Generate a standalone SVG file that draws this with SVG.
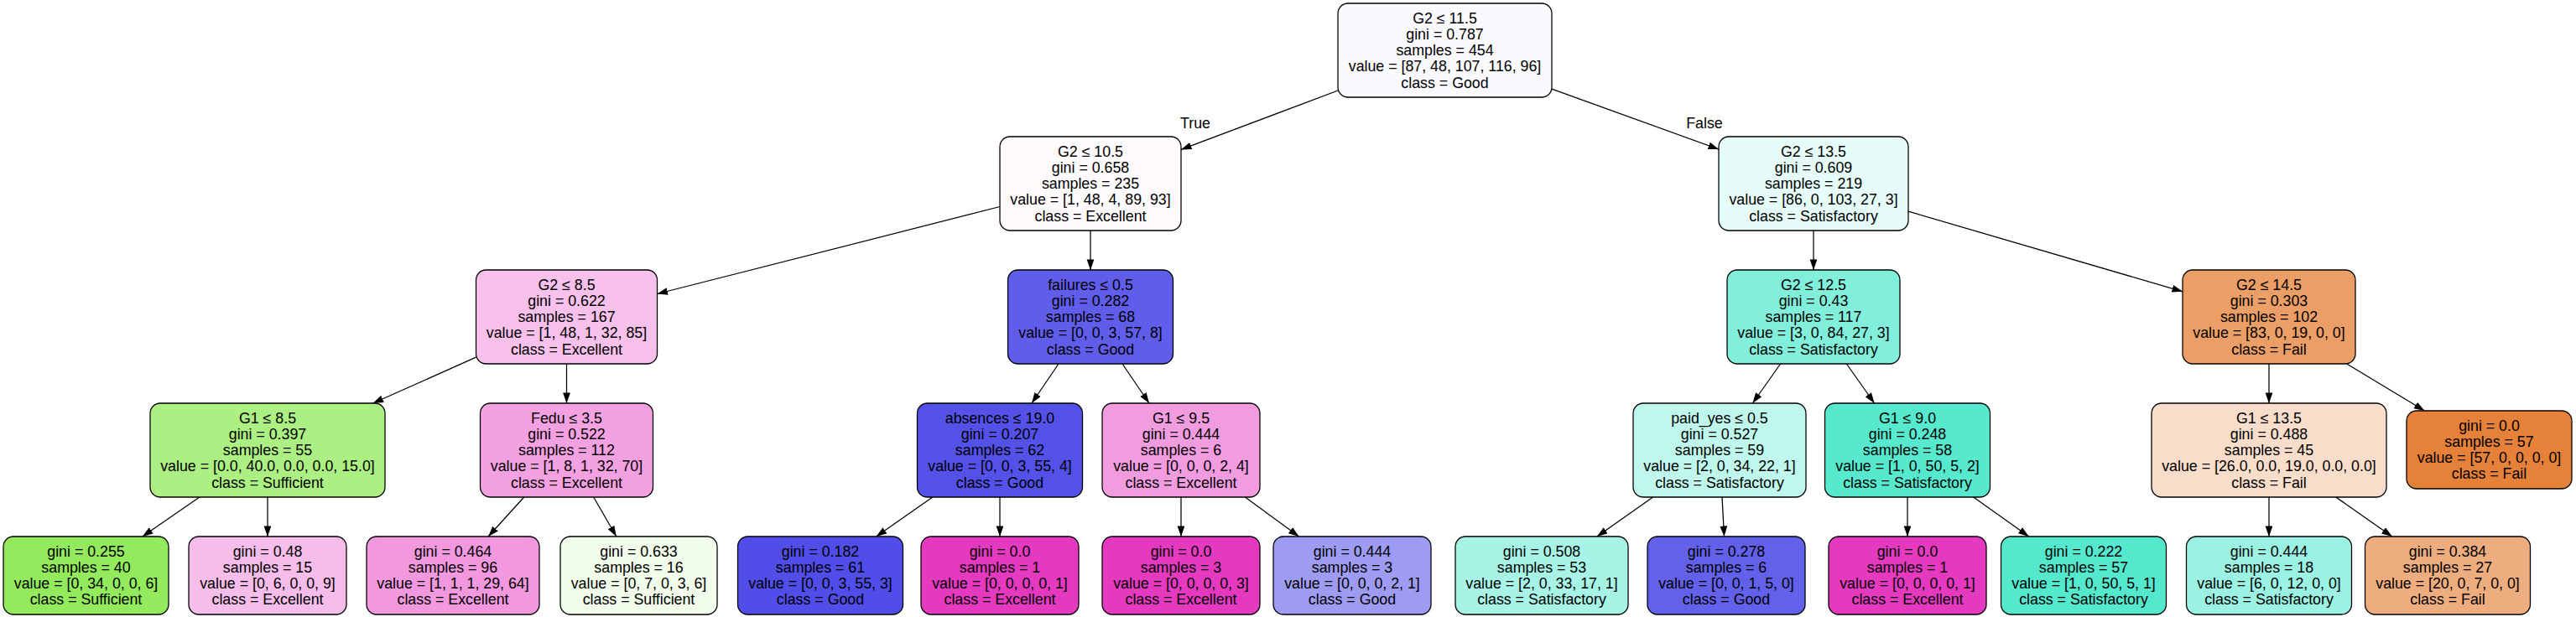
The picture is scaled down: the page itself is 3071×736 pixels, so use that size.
<svg xmlns="http://www.w3.org/2000/svg" width="3071" height="736" viewBox="0 0 3071 736">
<style>
.n rect{stroke:#000;stroke-width:1.26}
.n text{font-family:"Liberation Sans",Arial,Helvetica,sans-serif;font-size:17.8px;text-anchor:middle;fill:#000}
.e line{stroke:#000;stroke-width:1.26;marker-end:url(#ah)}
.lbl{font-family:"Liberation Sans",Arial,Helvetica,sans-serif;font-size:17.8px;text-anchor:middle;fill:#000}
</style>
<defs>
<marker id="ah" markerUnits="userSpaceOnUse" markerWidth="13" markerHeight="9" refX="12.6" refY="4.4" orient="auto"><path d="M0,0 L12.6,4.4 L0,8.8 z" fill="#000"/></marker>
</defs>
<rect width="3071" height="736" fill="#fff"/>
<g id="edges" class="e">
<line x1="1595" y1="108" x2="1408" y2="178.4"/>
<line x1="1850" y1="106.1" x2="2049" y2="178.1"/>
<line x1="1192" y1="246.5" x2="783.5" y2="350.5"/>
<line x1="1300" y1="275" x2="1300" y2="322"/>
<line x1="2162" y1="275" x2="2162" y2="322"/>
<line x1="2275" y1="252.1" x2="2602" y2="347.8"/>
<line x1="567.5" y1="426.2" x2="444.5" y2="481"/>
<line x1="675.5" y1="434" x2="675.5" y2="481"/>
<line x1="1262" y1="434" x2="1230" y2="481"/>
<line x1="1338" y1="434" x2="1370" y2="481"/>
<line x1="2122.6" y1="434" x2="2089.4" y2="481"/>
<line x1="2201.4" y1="434" x2="2234.6" y2="481"/>
<line x1="2705" y1="434" x2="2705" y2="481"/>
<line x1="2797.7" y1="434" x2="2890.5" y2="490"/>
<line x1="237.9" y1="593" x2="169.8" y2="640"/>
<line x1="319" y1="593" x2="319" y2="640"/>
<line x1="624.7" y1="593" x2="582.1" y2="640"/>
<line x1="707.7" y1="593" x2="734.8" y2="640"/>
<line x1="1111.8" y1="593" x2="1044.6" y2="640"/>
<line x1="1192" y1="593" x2="1192" y2="640"/>
<line x1="1408" y1="593" x2="1408" y2="640"/>
<line x1="1484.4" y1="593" x2="1548.6" y2="640"/>
<line x1="1970.6" y1="593" x2="1903.9" y2="640"/>
<line x1="2053" y1="593" x2="2055.5" y2="640"/>
<line x1="2274" y1="593" x2="2274" y2="640"/>
<line x1="2352.7" y1="593" x2="2418.7" y2="640"/>
<line x1="2705" y1="593" x2="2705" y2="640"/>
<line x1="2784.8" y1="593" x2="2851.8" y2="640"/>
<text class="lbl" x="1425" y="153">True</text>
<text class="lbl" x="2032" y="153">False</text>
</g>
<g id="node0" class="n"><rect x="1595" y="4" width="255" height="112" rx="12" fill="#fafafe"/><text><tspan x="1722.5" y="27.5">G2 ≤ 11.5</tspan><tspan x="1722.5" y="46.75">gini = 0.787</tspan><tspan x="1722.5" y="66">samples = 454</tspan><tspan x="1722.5" y="85.25">value = [87, 48, 107, 116, 96]</tspan><tspan x="1722.5" y="104.5">class = Good</tspan></text></g>
<g id="node1" class="n"><rect x="1192" y="163" width="216" height="112" rx="12" fill="#fefafd"/><text><tspan x="1300" y="186.5">G2 ≤ 10.5</tspan><tspan x="1300" y="205.75">gini = 0.658</tspan><tspan x="1300" y="225">samples = 235</tspan><tspan x="1300" y="244.25">value = [1, 48, 4, 89, 93]</tspan><tspan x="1300" y="263.5">class = Excellent</tspan></text></g>
<g id="node2" class="n"><rect x="2049" y="163" width="226" height="112" rx="12" fill="#e6fcf8"/><text><tspan x="2162" y="186.5">G2 ≤ 13.5</tspan><tspan x="2162" y="205.75">gini = 0.609</tspan><tspan x="2162" y="225">samples = 219</tspan><tspan x="2162" y="244.25">value = [86, 0, 103, 27, 3]</tspan><tspan x="2162" y="263.5">class = Satisfactory</tspan></text></g>
<g id="node3" class="n"><rect x="567.5" y="322" width="216" height="112" rx="12" fill="#f7c1eb"/><text><tspan x="675.5" y="345.5">G2 ≤ 8.5</tspan><tspan x="675.5" y="364.75">gini = 0.622</tspan><tspan x="675.5" y="384">samples = 167</tspan><tspan x="675.5" y="403.25">value = [1, 48, 1, 32, 85]</tspan><tspan x="675.5" y="422.5">class = Excellent</tspan></text></g>
<g id="node4" class="n"><rect x="1201.5" y="322" width="197" height="112" rx="12" fill="#605dea"/><text><tspan x="1300" y="345.5">failures ≤ 0.5</tspan><tspan x="1300" y="364.75">gini = 0.282</tspan><tspan x="1300" y="384">samples = 68</tspan><tspan x="1300" y="403.25">value = [0, 0, 3, 57, 8]</tspan><tspan x="1300" y="422.5">class = Good</tspan></text></g>
<g id="node5" class="n"><rect x="2059" y="322" width="206" height="112" rx="12" fill="#82efda"/><text><tspan x="2162" y="345.5">G2 ≤ 12.5</tspan><tspan x="2162" y="364.75">gini = 0.43</tspan><tspan x="2162" y="384">samples = 117</tspan><tspan x="2162" y="403.25">value = [3, 0, 84, 27, 3]</tspan><tspan x="2162" y="422.5">class = Satisfactory</tspan></text></g>
<g id="node6" class="n"><rect x="2602" y="322" width="206" height="112" rx="12" fill="#eb9e66"/><text><tspan x="2705" y="345.5">G2 ≤ 14.5</tspan><tspan x="2705" y="364.75">gini = 0.303</tspan><tspan x="2705" y="384">samples = 102</tspan><tspan x="2705" y="403.25">value = [83, 0, 19, 0, 0]</tspan><tspan x="2705" y="422.5">class = Fail</tspan></text></g>
<g id="node7" class="n"><rect x="179" y="481" width="280" height="112" rx="12" fill="#acef83"/><text><tspan x="319" y="504.5">G1 ≤ 8.5</tspan><tspan x="319" y="523.75">gini = 0.397</tspan><tspan x="319" y="543">samples = 55</tspan><tspan x="319" y="562.25">value = [0.0, 40.0, 0.0, 0.0, 15.0]</tspan><tspan x="319" y="581.5">class = Sufficient</tspan></text></g>
<g id="node8" class="n"><rect x="572.5" y="481" width="206" height="112" rx="12" fill="#f3a1e1"/><text><tspan x="675.5" y="504.5">Fedu ≤ 3.5</tspan><tspan x="675.5" y="523.75">gini = 0.522</tspan><tspan x="675.5" y="543">samples = 112</tspan><tspan x="675.5" y="562.25">value = [1, 8, 1, 32, 70]</tspan><tspan x="675.5" y="581.5">class = Excellent</tspan></text></g>
<g id="node9" class="n"><rect x="1093.5" y="481" width="197" height="112" rx="12" fill="#5451e8"/><text><tspan x="1192" y="504.5">absences ≤ 19.0</tspan><tspan x="1192" y="523.75">gini = 0.207</tspan><tspan x="1192" y="543">samples = 62</tspan><tspan x="1192" y="562.25">value = [0, 0, 3, 55, 4]</tspan><tspan x="1192" y="581.5">class = Good</tspan></text></g>
<g id="node10" class="n"><rect x="1314" y="481" width="188" height="112" rx="12" fill="#f29ce0"/><text><tspan x="1408" y="504.5">G1 ≤ 9.5</tspan><tspan x="1408" y="523.75">gini = 0.444</tspan><tspan x="1408" y="543">samples = 6</tspan><tspan x="1408" y="562.25">value = [0, 0, 0, 2, 4]</tspan><tspan x="1408" y="581.5">class = Excellent</tspan></text></g>
<g id="node11" class="n"><rect x="1947" y="481" width="206" height="112" rx="12" fill="#bff7ec"/><text><tspan x="2050" y="504.5">paid_yes ≤ 0.5</tspan><tspan x="2050" y="523.75">gini = 0.527</tspan><tspan x="2050" y="543">samples = 59</tspan><tspan x="2050" y="562.25">value = [2, 0, 34, 22, 1]</tspan><tspan x="2050" y="581.5">class = Satisfactory</tspan></text></g>
<g id="node12" class="n"><rect x="2175.5" y="481" width="197" height="112" rx="12" fill="#57e9ce"/><text><tspan x="2274" y="504.5">G1 ≤ 9.0</tspan><tspan x="2274" y="523.75">gini = 0.248</tspan><tspan x="2274" y="543">samples = 58</tspan><tspan x="2274" y="562.25">value = [1, 0, 50, 5, 2]</tspan><tspan x="2274" y="581.5">class = Satisfactory</tspan></text></g>
<g id="node13" class="n"><rect x="2565" y="481" width="280" height="112" rx="12" fill="#f8ddca"/><text><tspan x="2705" y="504.5">G1 ≤ 13.5</tspan><tspan x="2705" y="523.75">gini = 0.488</tspan><tspan x="2705" y="543">samples = 45</tspan><tspan x="2705" y="562.25">value = [26.0, 0.0, 19.0, 0.0, 0.0]</tspan><tspan x="2705" y="581.5">class = Fail</tspan></text></g>
<g id="node14" class="n"><rect x="2869" y="490" width="197" height="93" rx="12" fill="#e58139"/><text><tspan x="2967.5" y="513.6">gini = 0.0</tspan><tspan x="2967.5" y="532.9">samples = 57</tspan><tspan x="2967.5" y="552.1">value = [57, 0, 0, 0, 0]</tspan><tspan x="2967.5" y="571.4">class = Fail</tspan></text></g>
<g id="node15" class="n"><rect x="4" y="640" width="197" height="93" rx="12" fill="#92ea5c"/><text><tspan x="102.5" y="663.6">gini = 0.255</tspan><tspan x="102.5" y="682.9">samples = 40</tspan><tspan x="102.5" y="702.1">value = [0, 34, 0, 0, 6]</tspan><tspan x="102.5" y="721.4">class = Sufficient</tspan></text></g>
<g id="node16" class="n"><rect x="225" y="640" width="188" height="93" rx="12" fill="#f6bdea"/><text><tspan x="319" y="663.6">gini = 0.48</tspan><tspan x="319" y="682.9">samples = 15</tspan><tspan x="319" y="702.1">value = [0, 6, 0, 0, 9]</tspan><tspan x="319" y="721.4">class = Excellent</tspan></text></g>
<g id="node17" class="n"><rect x="437" y="640" width="206" height="93" rx="12" fill="#f198de"/><text><tspan x="540" y="663.6">gini = 0.464</tspan><tspan x="540" y="682.9">samples = 96</tspan><tspan x="540" y="702.1">value = [1, 1, 1, 29, 64]</tspan><tspan x="540" y="721.4">class = Excellent</tspan></text></g>
<g id="node18" class="n"><rect x="668" y="640" width="187" height="93" rx="12" fill="#f2fceb"/><text><tspan x="761.5" y="663.6">gini = 0.633</tspan><tspan x="761.5" y="682.9">samples = 16</tspan><tspan x="761.5" y="702.1">value = [0, 7, 0, 3, 6]</tspan><tspan x="761.5" y="721.4">class = Sufficient</tspan></text></g>
<g id="node19" class="n"><rect x="879.5" y="640" width="197" height="93" rx="12" fill="#504de8"/><text><tspan x="978" y="663.6">gini = 0.182</tspan><tspan x="978" y="682.9">samples = 61</tspan><tspan x="978" y="702.1">value = [0, 0, 3, 55, 3]</tspan><tspan x="978" y="721.4">class = Good</tspan></text></g>
<g id="node20" class="n"><rect x="1098" y="640" width="188" height="93" rx="12" fill="#e539c0"/><text><tspan x="1192" y="663.6">gini = 0.0</tspan><tspan x="1192" y="682.9">samples = 1</tspan><tspan x="1192" y="702.1">value = [0, 0, 0, 0, 1]</tspan><tspan x="1192" y="721.4">class = Excellent</tspan></text></g>
<g id="node21" class="n"><rect x="1314" y="640" width="188" height="93" rx="12" fill="#e539c0"/><text><tspan x="1408" y="663.6">gini = 0.0</tspan><tspan x="1408" y="682.9">samples = 3</tspan><tspan x="1408" y="702.1">value = [0, 0, 0, 0, 3]</tspan><tspan x="1408" y="721.4">class = Excellent</tspan></text></g>
<g id="node22" class="n"><rect x="1518" y="640" width="188" height="93" rx="12" fill="#9e9cf2"/><text><tspan x="1612" y="663.6">gini = 0.444</tspan><tspan x="1612" y="682.9">samples = 3</tspan><tspan x="1612" y="702.1">value = [0, 0, 0, 2, 1]</tspan><tspan x="1612" y="721.4">class = Good</tspan></text></g>
<g id="node23" class="n"><rect x="1735" y="640" width="206" height="93" rx="12" fill="#a7f3e5"/><text><tspan x="1838" y="663.6">gini = 0.508</tspan><tspan x="1838" y="682.9">samples = 53</tspan><tspan x="1838" y="702.1">value = [2, 0, 33, 17, 1]</tspan><tspan x="1838" y="721.4">class = Satisfactory</tspan></text></g>
<g id="node24" class="n"><rect x="1964" y="640" width="188" height="93" rx="12" fill="#6361ea"/><text><tspan x="2058" y="663.6">gini = 0.278</tspan><tspan x="2058" y="682.9">samples = 6</tspan><tspan x="2058" y="702.1">value = [0, 0, 1, 5, 0]</tspan><tspan x="2058" y="721.4">class = Good</tspan></text></g>
<g id="node25" class="n"><rect x="2180" y="640" width="188" height="93" rx="12" fill="#e539c0"/><text><tspan x="2274" y="663.6">gini = 0.0</tspan><tspan x="2274" y="682.9">samples = 1</tspan><tspan x="2274" y="702.1">value = [0, 0, 0, 0, 1]</tspan><tspan x="2274" y="721.4">class = Excellent</tspan></text></g>
<g id="node26" class="n"><rect x="2385.5" y="640" width="197" height="93" rx="12" fill="#54e8cd"/><text><tspan x="2484" y="663.6">gini = 0.222</tspan><tspan x="2484" y="682.9">samples = 57</tspan><tspan x="2484" y="702.1">value = [1, 0, 50, 5, 1]</tspan><tspan x="2484" y="721.4">class = Satisfactory</tspan></text></g>
<g id="node27" class="n"><rect x="2606.5" y="640" width="197" height="93" rx="12" fill="#9cf2e2"/><text><tspan x="2705" y="663.6">gini = 0.444</tspan><tspan x="2705" y="682.9">samples = 18</tspan><tspan x="2705" y="702.1">value = [6, 0, 12, 0, 0]</tspan><tspan x="2705" y="721.4">class = Satisfactory</tspan></text></g>
<g id="node28" class="n"><rect x="2819.5" y="640" width="197" height="93" rx="12" fill="#eead7e"/><text><tspan x="2918" y="663.6">gini = 0.384</tspan><tspan x="2918" y="682.9">samples = 27</tspan><tspan x="2918" y="702.1">value = [20, 0, 7, 0, 0]</tspan><tspan x="2918" y="721.4">class = Fail</tspan></text></g>
</svg>
